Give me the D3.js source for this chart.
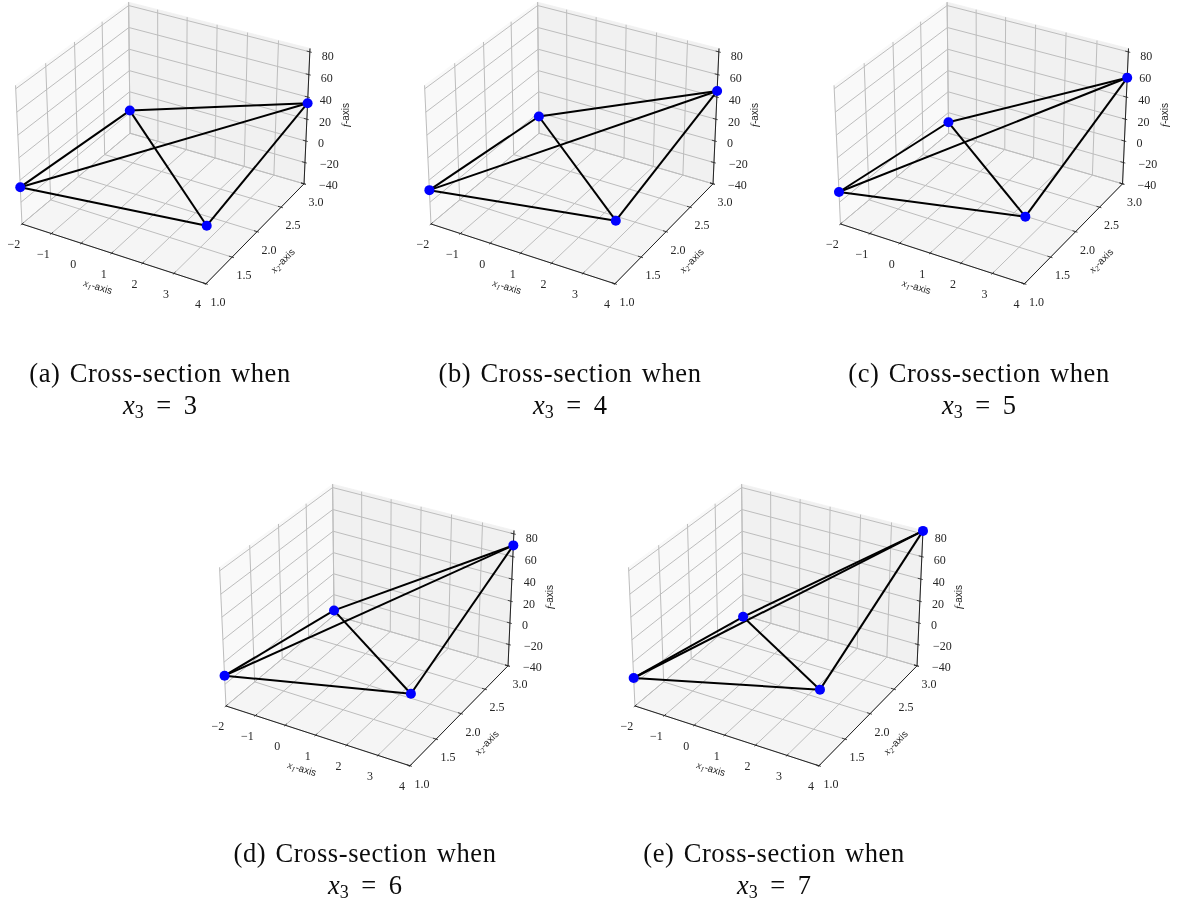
<!DOCTYPE html>
<html>
<head>
<meta charset="utf-8">
<script src="https://cdn.jsdelivr.net/npm/d3@7"></script>
<style>
body { margin: 0; background: #fff; }
svg { filter: blur(0.4px); }
text { font-family: "Liberation Serif", serif; fill: #262626; }
text.caption { fill: #0c0c0c; }
</style>
</head>
<body>
<div id="chart"></div>
<script>
// Data
var panelLetters = ["a", "b", "c", "d", "e"];
var x3Values = [3, 4, 5, 6, 7];
var vertexX1 = [-2, -2, 4, 4];
var vertexX2 = [1, 3, 3, 1];
var fAt3 = [-6.3, -18, 34.5, 11.2];
var fAt4 = [-9, -23.7, 45.4, 15.5];
var fAt5 = [-10.7, -29.3, 57.2, 19];
var fAt6 = [-12.2, -35.3, 69.9, 23.2];
var fAt7 = [-14.3, -41.5, 82.6, 26.7];
var fValues = [fAt3, fAt4, fAt5, fAt6, fAt7];
var edges = [[0, 1], [1, 2], [0, 2], [0, 3], [1, 3], [2, 3]];
var x1Ticks = [-2, -1, 0, 1, 2, 3, 4];
var x2Ticks = [1.0, 1.5, 2.0, 2.5, 3.0];
var fTicks = [-40, -20, 0, 20, 40, 60, 80];

// Layout
var svgWidth = 1182;
var svgHeight = 904;
var origins = [[165.5, 136.5], [574.5, 136.5], [984, 136.5], [369.5, 618.5], [778.5, 618.5]];
var captionX = [160, 570, 979, 365, 774];
var captionY = [381.5, 381.5, 381.5, 862, 862];
var pxScale = 1845;

var svg = d3.select("#chart").append("svg")
    .attr("width", svgWidth)
    .attr("height", svgHeight);

// matplotlib's box and default camera (elev 30, azim -60, dist 10)
var boxX = 1.1429, boxZ = 0.8571;
var xScale = d3.scaleLinear().domain([-2, 4]).range([-boxX / 2, boxX / 2]);
var yScale = d3.scaleLinear().domain([1, 3]).range([-boxX / 2, boxX / 2]);
var zScale = d3.scaleLinear().domain([-40, 83]).range([-boxZ / 2, boxZ / 2]);
var zMin = -40, zMax = 83;
// f tick labels drift a little relative to their ticks
var fLabelDrop = d3.scaleLinear().domain([-40, 80]).range([5, 8]);

function project(origin, x, y, z) {
    var X = xScale(x), Y = yScale(y), Z = zScale(z);
    var u = 0.866 * X + 0.5 * Y;
    var v = -0.25 * X + 0.433 * Y + 0.866 * Z;
    var n = 0.433 * X - 0.75 * Y + 0.5 * Z;
    var d = 10 - n;
    return [origin[0] + pxScale * u / d, origin[1] - pxScale * v / d];
}

var minus = function(t) { return String(t).replace("-", "\u2212"); };

function drawPanel(i) {
    var origin = origins[i];
    var g = svg.append("g").attr("class", "panel");
    var P = function(x, y, z) { return project(origin, x, y, z); };
    var line = d3.line();

    // panes
    var panes = [
        { c: "#f9f9f9", pts: [P(-2, 1, zMin), P(-2, 3, zMin), P(-2, 3, zMax), P(-2, 1, zMax)] },
        { c: "#f1f1f1", pts: [P(-2, 3, zMin), P(4, 3, zMin), P(4, 3, zMax), P(-2, 3, zMax)] },
        { c: "#f5f5f5", pts: [P(-2, 1, zMin), P(4, 1, zMin), P(4, 3, zMin), P(-2, 3, zMin)] }
    ];
    g.selectAll(".pane").data(panes).enter().append("path")
        .attr("class", "pane")
        .attr("d", d => line(d.pts) + "Z")
        .attr("fill", d => d.c)
        .attr("stroke", d => d.c)
        .attr("stroke-width", 0.8);

    // grid
    var grid = [];
    x1Ticks.forEach(t => grid.push([P(t, 1, zMin), P(t, 3, zMin), P(t, 3, zMax)]));
    x2Ticks.forEach(t => grid.push([P(4, t, zMin), P(-2, t, zMin), P(-2, t, zMax)]));
    fTicks.forEach(t => grid.push([P(-2, 1, t), P(-2, 3, t), P(4, 3, t)]));
    g.selectAll(".grid").data(grid).enter().append("path")
        .attr("class", "grid")
        .attr("d", line)
        .attr("fill", "none")
        .attr("stroke", "#bdbdbd")
        .attr("stroke-width", 1);

    // axis lines
    var axes = [
        [P(-2, 1, zMin), P(4, 1, zMin)],
        [P(4, 1, zMin), P(4, 3, zMin)],
        [P(4, 3, zMin), P(4, 3, zMax)]
    ];
    g.selectAll(".axis").data(axes).enter().append("path")
        .attr("class", "axis")
        .attr("d", line)
        .attr("stroke", "#222")
        .attr("stroke-width", 1);

    // ticks
    var ticks = [];
    x1Ticks.forEach(t => ticks.push([P(t, 1.03, zMin), P(t, 0.98, zMin)]));
    x2Ticks.forEach(t => ticks.push([P(3.9, t, zMin), P(4.06, t, zMin)]));
    fTicks.forEach(t => ticks.push([P(3.9, 3, t), P(4.06, 3, t)]));
    g.selectAll(".tick").data(ticks).enter().append("path")
        .attr("class", "tick")
        .attr("d", line)
        .attr("stroke", "#222")
        .attr("stroke-width", 0.8);

    // tick labels
    var labels = [];
    x1Ticks.forEach(t => {
        var p = P(t, 1, zMin);
        labels.push({ x: p[0] - 8, y: p[1] + 24.5, s: minus(t), a: "middle" });
    });
    x2Ticks.forEach(t => {
        var p = P(4, t, zMin);
        labels.push({ x: p[0] + 12, y: p[1] + 22, s: d3.format(".1f")(t), a: "middle" });
    });
    fTicks.forEach(t => {
        var p = P(4, 3, t);
        labels.push({ x: p[0] + (t < 0 ? 15 : 12), y: p[1] + fLabelDrop(t), s: minus(t), a: "start" });
    });
    g.selectAll(".ticklabel").data(labels).enter().append("text")
        .attr("class", "ticklabel")
        .attr("x", d => d.x)
        .attr("y", d => d.y)
        .attr("text-anchor", d => d.a)
        .attr("font-size", 12)
        .text(d => d.s);

    // axis titles
    function axisTitle(x, y, rot, sub) {
        var t = g.append("text")
            .attr("text-anchor", "middle")
            .attr("transform", "translate(" + x + "," + y + ") rotate(" + rot + ")")
            .attr("font-size", 10);
        if (sub) {
            t.append("tspan").attr("font-style", "italic").attr("font-size", 10.5).text("x");
            t.append("tspan").attr("font-style", "italic").attr("font-size", 7.5).attr("dy", 2).text(sub);
            t.append("tspan").attr("dy", -2).style("font-family", "'Liberation Sans'").text("-axis");
        } else {
            t.append("tspan").attr("font-style", "italic").attr("font-size", 11).text("f");
            t.append("tspan").style("font-family", "'Liberation Sans'").text("-axis");
        }
    }
    var dx = origin[0] - 165.5, dy = origin[1] - 136.5;
    axisTitle(97 + dx, 290 + dy, 17, "1");
    axisTitle(285 + dx, 263 + dy, -45, "2");
    axisTitle(349 + dx, 115 + dy, -90, null);

    // edges and vertices of this cross-section
    var f = fValues[i];
    g.selectAll(".edge").data(edges).enter().append("path")
        .attr("class", "edge")
        .attr("d", e => line([
            P(vertexX1[e[0]], vertexX2[e[0]], f[e[0]]),
            P(vertexX1[e[1]], vertexX2[e[1]], f[e[1]])
        ]))
        .attr("stroke", "#000")
        .attr("stroke-width", 2);
    g.selectAll(".vertex").data(f).enter().append("circle")
        .attr("class", "vertex")
        .attr("cx", (d, k) => P(vertexX1[k], vertexX2[k], d)[0])
        .attr("cy", (d, k) => P(vertexX1[k], vertexX2[k], d)[1])
        .attr("r", 5)
        .attr("fill", "#0000ff");

    // caption
    g.append("text")
        .attr("class", "caption")
        .attr("x", captionX[i]).attr("y", captionY[i])
        .attr("text-anchor", "middle")
        .attr("font-size", 26.5)
        .attr("letter-spacing", 0.6)
        .attr("word-spacing", 2)
        .text("(" + panelLetters[i] + ") Cross-section when");
    var c2 = g.append("text")
        .attr("class", "caption")
        .attr("x", captionX[i]).attr("y", captionY[i] + 32)
        .attr("text-anchor", "middle")
        .attr("font-size", 26.5)
        .attr("word-spacing", 6);
    c2.append("tspan").attr("font-style", "italic").text("x");
    c2.append("tspan").attr("font-size", 18).attr("dy", 4).text("3");
    c2.append("tspan").attr("dy", -4).text(" = " + x3Values[i]);
}

panelLetters.forEach((d, i) => drawPanel(i));
</script>
</body>
</html>
